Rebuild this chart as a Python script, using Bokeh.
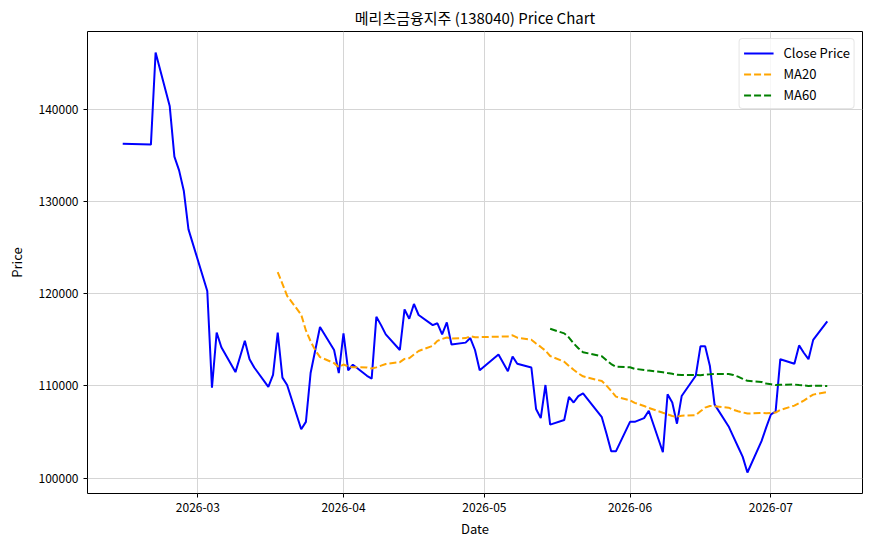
import datetime as dt
import pandas as pd
from bokeh.plotting import figure
from bokeh.models import (Range1d, FixedTicker, DatetimeTickFormatter, NumeralTickFormatter,
                          Legend, LegendItem, ColumnDataSource)
from bokeh.embed import file_html
from bokeh.resources import INLINE

title_text = "메리츠금융지주 (138040) Price Chart"

dates = [
    "2026-02-13", "2026-02-19", "2026-02-20", "2026-02-23", "2026-02-24", "2026-02-25", "2026-02-26", "2026-02-27",
    "2026-03-03", "2026-03-04", "2026-03-05", "2026-03-06",
    "2026-03-09", "2026-03-10", "2026-03-11", "2026-03-12", "2026-03-13",
    "2026-03-16", "2026-03-17", "2026-03-18", "2026-03-19", "2026-03-20",
    "2026-03-23", "2026-03-24", "2026-03-25", "2026-03-26", "2026-03-27",
    "2026-03-30", "2026-03-31", "2026-04-01", "2026-04-02", "2026-04-03",
    "2026-04-06", "2026-04-07", "2026-04-08", "2026-04-09", "2026-04-10",
    "2026-04-13", "2026-04-14", "2026-04-15", "2026-04-16", "2026-04-17",
    "2026-04-20", "2026-04-21", "2026-04-22", "2026-04-23", "2026-04-24",
    "2026-04-27", "2026-04-28", "2026-04-29", "2026-04-30",
    "2026-05-04", "2026-05-06", "2026-05-07", "2026-05-08",
    "2026-05-11", "2026-05-12", "2026-05-13", "2026-05-14", "2026-05-15",
    "2026-05-18", "2026-05-19", "2026-05-20", "2026-05-21", "2026-05-22",
    "2026-05-26", "2026-05-27", "2026-05-28", "2026-05-29",
    "2026-06-01", "2026-06-02", "2026-06-04", "2026-06-05",
    "2026-06-08", "2026-06-09", "2026-06-10", "2026-06-11", "2026-06-12",
    "2026-06-15", "2026-06-16", "2026-06-17", "2026-06-18", "2026-06-19",
    "2026-06-22", "2026-06-23", "2026-06-24", "2026-06-25", "2026-06-26",
    "2026-06-29", "2026-06-30", "2026-07-01", "2026-07-02", "2026-07-03",
    "2026-07-06", "2026-07-07", "2026-07-08", "2026-07-09", "2026-07-10",
    "2026-07-13",
]

close = [
    136300, 136200, 146200, 140400, 134900, 133400, 131200, 127000,
    120300, 109800, 115800, 114200,
    111500, 113200, 114900, 112900, 112000,
    109900, 111200, 115800, 110900, 110100,
    105300, 106100, 111400, 113900, 116400,
    113900, 111400, 115700, 111700, 112300,
    111100, 110800, 117500, 116600, 115600,
    113900, 118300, 117300, 118900, 117700,
    116600, 116800, 115600, 116900, 114500,
    114700, 115200, 113900, 111700,
    113400, 111600, 113200, 112400,
    112000, 107500, 106500, 110100, 105800,
    106300, 108800, 108200, 108900, 109200,
    106600, 104800, 102900, 102900,
    106100, 106100, 106500, 107300,
    102800, 109100, 108200, 105900, 108900,
    111100, 114300, 114300, 112200, 108000,
    105600, 104500, 103400, 102300, 100600,
    104000, 105500,
    106900, 107200, 112900,
    112400, 114400, 113600, 112900, 115000,
    117000,
]

month_ticks = ["2026-03-01", "2026-04-01", "2026-05-01", "2026-06-01", "2026-07-01"]
price_ticks = [100000, 110000, 120000, 130000, 140000]

df = pd.DataFrame({"date": pd.to_datetime(dates), "close": close})
df["ma20"] = df["close"].rolling(20).mean()
df["ma60"] = df["close"].rolling(60).mean()
src = ColumnDataSource(df)

font = "Noto Sans CJK KR"

p = figure(width=872, height=546, x_axis_type="datetime", output_backend="svg",
           toolbar_location=None, tools="",
           x_range=Range1d(dt.datetime(2026, 2, 5, 12), dt.datetime(2026, 7, 20, 12)),
           y_range=Range1d(98320, 148480),
           min_border_left=87, min_border_right=10, min_border_top=31, min_border_bottom=53)
p.frame_width = 775
p.frame_height = 462

p.title.text = title_text
p.title.align = "center"
p.title.text_font = font
p.title.text_font_size = "15px"
p.title.text_font_style = "normal"
p.title.text_color = "black"
p.title.offset = 0
p.title.standoff = 7

r1 = p.line("date", "close", source=src, line_color="#0000ff", line_width=2)
r2 = p.line("date", "ma20", source=src, line_color="#ffa500", line_width=2, line_dash="7 3")
r3 = p.line("date", "ma60", source=src, line_color="#008000", line_width=2, line_dash="7 3")

tick_ms = [pd.Timestamp(t).value // 10**6 for t in month_ticks]
p.xaxis.ticker = FixedTicker(ticks=tick_ms)
p.xaxis.formatter = DatetimeTickFormatter(months="%Y-%m", days="%Y-%m", hours="%Y-%m",
                                          years="%Y-%m", minutes="%Y-%m")
p.yaxis.ticker = FixedTicker(ticks=price_ticks)
p.yaxis.formatter = NumeralTickFormatter(format="0")

p.xaxis.axis_label = "Date"
p.yaxis.axis_label = "Price"
for ax in (p.xaxis, p.yaxis):
    ax.axis_label_text_font = font
    ax.axis_label_text_font_size = "13px"
    ax.axis_label_text_font_style = "normal"
    ax.axis_label_text_color = "black"
    ax.major_label_text_font = font
    ax.major_label_text_font_size = "12px"
    ax.major_label_text_color = "black"
    ax.axis_line_color = None
    ax.major_tick_line_color = "black"
    ax.major_tick_in = 0
    ax.major_tick_out = 4
    ax.minor_tick_line_color = None
p.xaxis.axis_label_standoff = 4
p.yaxis.axis_label_standoff = 10

p.outline_line_color = "black"
p.outline_line_width = 1
p.xgrid.grid_line_color = "#d5d5d5"
p.ygrid.grid_line_color = "#d5d5d5"
p.background_fill_color = "white"
p.border_fill_color = "white"

legend = Legend(items=[LegendItem(label="Close Price", renderers=[r1]),
                       LegendItem(label="MA20", renderers=[r2]),
                       LegendItem(label="MA60", renderers=[r3])],
                location="top_right")
legend.label_text_font = font
legend.label_text_font_size = "13px"
legend.label_text_color = "black"
legend.glyph_width = 30
legend.glyph_height = 18
legend.label_height = 18
legend.spacing = 2
legend.padding = 4
legend.margin = 7
legend.label_standoff = 10
legend.border_line_color = "#cccccc"
legend.border_line_width = 1
legend.border_radius = 4
legend.background_fill_alpha = 0.8
p.add_layout(legend)

open("out.html", "w").write(file_html(p, INLINE))
